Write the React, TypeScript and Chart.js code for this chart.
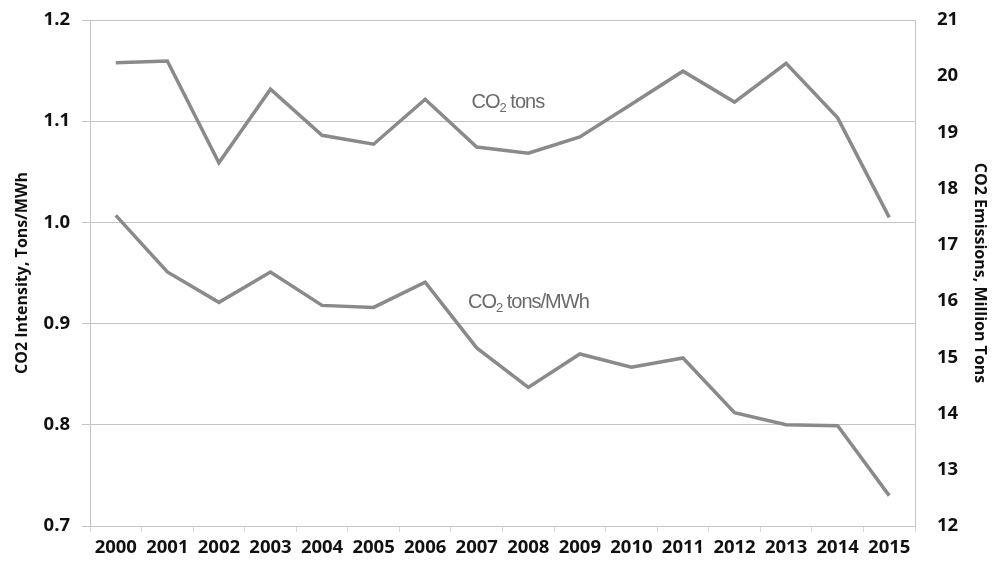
import React, { useEffect, useRef } from "react";
import Chart from "chart.js/auto";

const years = [
  "2000", "2001", "2002", "2003", "2004", "2005", "2006", "2007",
  "2008", "2009", "2010", "2011", "2012", "2013", "2014", "2015",
];

// CO2 tons/MWh (left axis)
const intensity = [
  1.007, 0.951, 0.921, 0.951, 0.918, 0.916, 0.941, 0.876,
  0.837, 0.87, 0.857, 0.866, 0.812, 0.8, 0.799, 0.73,
];

// CO2 emissions, million tons (right axis)
const emissions = [
  20.24, 20.27, 18.46, 19.77, 18.95, 18.79, 19.59, 18.74,
  18.63, 18.92, 19.5, 20.09, 19.54, 20.23, 19.26, 17.49,
];

const leftTitle = "CO2 Intensity, Tons/MWh";
const rightTitle = "CO2 Emissions, Million Tons";

// in-chart series labels: [text before subscript, text after, x index, left-axis value]
const seriesLabels: [string, string, number, number][] = [
  ["CO", " tons", 6.9, 1.113],
  ["CO", " tons/MWh", 6.83, 0.915],
];

const lineColor = "#8a8a8a";
const gridColor = "#c4c4c4";
const tickFont = { family: "'Open Sans'", size: 18.5, weight: "bold" as const };
const titleFont = { family: "'Open Sans'", size: 16, weight: "bold" as const };

const seriesLabelPlugin = {
  id: "seriesLabels",
  afterDatasetsDraw(chart: Chart) {
    const { ctx } = chart;
    const x = chart.scales.x;
    const y = chart.scales.y;
    ctx.save();
    ctx.fillStyle = "#6a6a6a";
    ctx.textBaseline = "alphabetic";
    (ctx as any).letterSpacing = "-1px";
    seriesLabels.forEach(([pre, post, xi, yv]) => {
      let px = x.getPixelForValue(xi);
      const py = y.getPixelForValue(yv);
      ctx.font = "20px 'Liberation Sans', Arial, sans-serif";
      ctx.fillText(pre, px, py);
      px += ctx.measureText(pre).width;
      ctx.font = "13px 'Liberation Sans', Arial, sans-serif";
      ctx.fillText("2", px, py + 4);
      px += ctx.measureText("2").width;
      ctx.font = "20px 'Liberation Sans', Arial, sans-serif";
      ctx.fillText(post, px, py);
    });
    ctx.restore();
  },
};

const App: React.FC = () => {
  const chartRef = useRef<HTMLCanvasElement>(null);
  const chartInstanceRef = useRef<Chart | null>(null);

  useEffect(() => {
    if (!chartRef.current) return;
    if (chartInstanceRef.current) chartInstanceRef.current.destroy();

    chartInstanceRef.current = new Chart(chartRef.current, {
      type: "line",
      data: {
        labels: years,
        datasets: [
          {
            label: "CO2 tons",
            data: emissions,
            yAxisID: "y1",
            borderColor: lineColor,
            borderWidth: 3.5,
            pointRadius: 0,
            tension: 0,
          },
          {
            label: "CO2 tons/MWh",
            data: intensity,
            yAxisID: "y",
            borderColor: lineColor,
            borderWidth: 3.5,
            pointRadius: 0,
            tension: 0,
          },
        ],
      },
      options: {
        animation: false,
        responsive: true,
        maintainAspectRatio: false,
        layout: { padding: { top: 20 } },
        plugins: {
          legend: { display: false },
          tooltip: { enabled: false },
        },
        scales: {
          x: {
            offset: true,
            grid: {
              drawOnChartArea: false,
              drawTicks: true,
              tickLength: 6,
              color: "#d8d8d8",
              offset: true,
            },
            border: { color: gridColor },
            ticks: {
              color: "#111",
              font: tickFont,
              padding: 5,
              maxRotation: 0,
              autoSkip: false,
            },
            afterFit: (scale) => {
              scale.height = 38;
            },
          },
          y: {
            position: "left",
            min: 0.7,
            max: 1.2,
            grid: { color: gridColor, tickLength: 8 },
            border: { color: gridColor },
            ticks: {
              stepSize: 0.1,
              color: "#111",
              font: tickFont,
              padding: 12,
              callback: (v) => Number(v).toFixed(1),
            },
            title: {
              display: true,
              text: leftTitle,
              color: "#111",
              font: titleFont,
              padding: { top: 13, bottom: 0 },
            },
            afterFit: (scale) => {
              scale.width = 90;
              scale.paddingTop = 0;
              scale.paddingBottom = 0;
            },
          },
          y1: {
            position: "right",
            min: 12,
            max: 21,
            grid: { drawOnChartArea: false, drawTicks: false },
            border: { color: gridColor },
            ticks: {
              stepSize: 1,
              color: "#111",
              font: tickFont,
              padding: 22,
            },
            title: {
              display: true,
              text: rightTitle,
              color: "#111",
              font: titleFont,
              padding: { top: 7, bottom: 0 },
            },
            afterFit: (scale) => {
              scale.width = 81;
              scale.paddingTop = 0;
              scale.paddingBottom = 0;
            },
          },
        },
      },
      plugins: [seriesLabelPlugin],
    });

    return () => {
      if (chartInstanceRef.current) {
        chartInstanceRef.current.destroy();
        chartInstanceRef.current = null;
      }
    };
  }, []);

  return (
    <div
      style={{
        position: "absolute",
        left: 0,
        top: 0,
        width: 996,
        height: 564,
        background: "#fff",
      }}
    >
      <canvas ref={chartRef} />
    </div>
  );
};

export default App;
